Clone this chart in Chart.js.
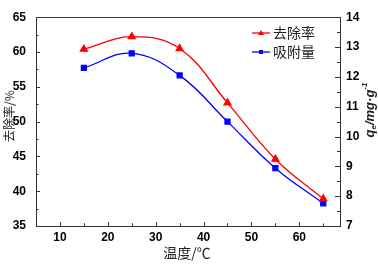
<!DOCTYPE html>
<html>
<head>
<meta charset="utf-8">
<script src="https://cdn.jsdelivr.net/npm/chart.js@4"></script>
<style>
  html, body { margin: 0; padding: 0; background: #fff; }
  #wrap { width: 378px; height: 264px; }
</style>
</head>
<body>
<div id="wrap"><canvas id="c" width="378" height="264"></canvas></div>
<script>
// data
const temps = [15, 25, 35, 45, 55, 65];
const removal = [60.4, 62.2, 60.5, 52.7, 44.6, 38.9];     // 去除率 /%
const adsorption = [12.3, 12.79, 12.05, 10.5, 8.94, 7.76]; // 吸附量 qe
const xTicks = [10, 20, 30, 40, 50, 60];
const yTicks = [35, 40, 45, 50, 55, 60, 65];
const y1Ticks = [7, 8, 9, 10, 11, 12, 13, 14];

const RED = "#ff0000";
const BLUE = "#0000ff";
const tickFont = { family: "'Liberation Sans', Arial, sans-serif", size: 12, weight: "bold" };
const cjk = "'Noto Sans CJK SC', sans-serif";

function setTicks(list) {
  return (scale) => { scale.ticks = list.map(v => ({ value: v })); };
}

// frame, inward ticks, axis titles and legend
const decor = {
  id: "decor",
  afterDraw(chart) {
    const ctx = chart.ctx;
    const a = chart.chartArea;
    const sx = chart.scales.x, sy = chart.scales.y, sy1 = chart.scales.y1;
    ctx.save();
    ctx.strokeStyle = "#333";
    ctx.lineWidth = 1;
    ctx.strokeRect(Math.round(a.left) + 0.5, Math.round(a.top) + 0.5,
      Math.round(a.right - a.left), Math.round(a.bottom - a.top));

    ctx.beginPath();
    const hTick = (px, len, side) => {
      const y = Math.round(px) + 0.5;
      if (side === "l") { ctx.moveTo(a.left, y); ctx.lineTo(a.left + len, y); }
      else { ctx.moveTo(a.right, y); ctx.lineTo(a.right - len, y); }
    };
    yTicks.forEach((v, i) => {
      hTick(sy.getPixelForValue(v), 4, "l");
      if (i < yTicks.length - 1) hTick(sy.getPixelForValue(v + 2.5), 2.5, "l");
    });
    y1Ticks.forEach((v, i) => {
      hTick(sy1.getPixelForValue(v), 5, "r");
      if (i < y1Ticks.length - 1) hTick(sy1.getPixelForValue(v + 0.5), 3, "r");
    });
    xTicks.forEach((v) => {
      const x = Math.round(sx.getPixelForValue(v)) + 0.5;
      ctx.moveTo(x, a.bottom); ctx.lineTo(x, a.bottom - 4);
      [v - 5, v + 5].forEach((m) => {
        if (m > sx.min && m < sx.max) {
          const xm = Math.round(sx.getPixelForValue(m)) + 0.5;
          ctx.moveTo(xm, a.bottom); ctx.lineTo(xm, a.bottom - 2.5);
        }
      });
    });
    ctx.stroke();

    // left title
    ctx.fillStyle = "#222";
    ctx.save();
    ctx.translate(9, 116);
    ctx.rotate(-Math.PI / 2);
    ctx.font = "12px " + cjk;
    ctx.textAlign = "center";
    ctx.textBaseline = "middle";
    ctx.fillText("去除率/%", 0, 0);
    ctx.restore();

    // right title: qe/mg·g-1
    ctx.save();
    ctx.translate(370, 110);
    ctx.rotate(-Math.PI / 2);
    ctx.textBaseline = "middle";
    const parts = [
      ["bold italic 13px 'Liberation Sans', Arial", "q", 0],
      ["bold italic 8px 'Liberation Sans', Arial", "e", 4],
      ["bold italic 13px 'Liberation Sans', Arial", "/mg·g", 0],
      ["bold italic 8px 'Liberation Sans', Arial", "-1", -5]
    ];
    let w = 0;
    parts.forEach(p => { ctx.font = p[0]; w += ctx.measureText(p[1]).width; });
    let x = -w / 2;
    parts.forEach(p => {
      ctx.font = p[0];
      ctx.fillText(p[1], x, p[2]);
      x += ctx.measureText(p[1]).width;
    });
    ctx.restore();

    // bottom title
    ctx.font = "14px " + cjk;
    ctx.textAlign = "center";
    ctx.textBaseline = "middle";
    ctx.fillText("温度/℃", 187, 253);

    // legend
    const items = [[chart.data.datasets[0], 33], [chart.data.datasets[1], 52]];
    items.forEach(([ds, y]) => {
      ctx.strokeStyle = ds.borderColor;
      ctx.lineWidth = 1.3;
      ctx.beginPath();
      ctx.moveTo(252, y); ctx.lineTo(270, y);
      ctx.stroke();
      ctx.fillStyle = ds.borderColor;
      if (ds.pointStyle === "triangle") {
        ctx.beginPath();
        ctx.moveTo(261, y - 3); ctx.lineTo(264, y + 2); ctx.lineTo(258, y + 2);
        ctx.closePath(); ctx.fill();
      } else {
        ctx.fillRect(259, y - 2, 4, 4);
      }
      ctx.fillStyle = "#222";
      ctx.font = "14px " + cjk;
      ctx.textAlign = "left";
      ctx.fillText(ds.label, 273, y);
    });
    ctx.restore();
  }
};

new Chart(document.getElementById("c"), {
  type: "line",
  data: {
    datasets: [
      {
        label: "去除率",
        data: temps.map((t, i) => ({ x: t, y: removal[i] })),
        yAxisID: "y",
        borderColor: RED,
        backgroundColor: RED,
        borderWidth: 1.3,
        pointStyle: "triangle",
        pointRadius: 4,
        tension: 0.4
      },
      {
        label: "吸附量",
        data: temps.map((t, i) => ({ x: t, y: adsorption[i] })),
        yAxisID: "y1",
        borderColor: BLUE,
        backgroundColor: BLUE,
        borderWidth: 1.3,
        pointStyle: "rect",
        pointRadius: 3.5,
        tension: 0.4
      }
    ]
  },
  options: {
    responsive: false,
    animation: false,
    layout: { padding: { top: 6, left: 0, right: 0, bottom: 0 } },
    plugins: { legend: { display: false }, tooltip: { enabled: false } },
    scales: {
      x: {
        type: "linear",
        min: 5,
        max: 68.5,
        afterBuildTicks: setTicks(xTicks),
        afterFit: (s) => { s.height = 38; },
        grid: { display: false, drawTicks: false, tickLength: 0 },
        border: { display: false },
        ticks: { font: tickFont, color: "#000", padding: 4, maxRotation: 0 }
      },
      y: {
        position: "left",
        min: 35,
        max: 65,
        afterBuildTicks: setTicks(yTicks),
        afterFit: (s) => { s.width = 36; },
        grid: { display: false, drawTicks: false, tickLength: 0 },
        border: { display: false },
        ticks: { font: tickFont, color: "#000", padding: 10 }
      },
      y1: {
        position: "right",
        min: 7,
        max: 14,
        afterBuildTicks: setTicks(y1Ticks),
        afterFit: (s) => { s.width = 38; },
        grid: { display: false, drawTicks: false, tickLength: 0 },
        border: { display: false },
        ticks: { font: tickFont, color: "#000", padding: 6 }
      }
    }
  },
  plugins: [decor]
});
</script>
</body>
</html>
